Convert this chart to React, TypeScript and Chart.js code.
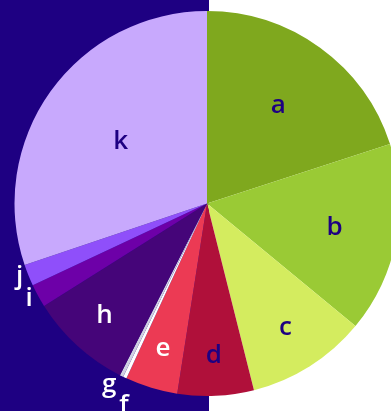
import React, { useEffect, useRef } from "react";
import { Chart, registerables } from "chart.js";

Chart.register(...registerables);

const categories = ["a", "b", "c", "d", "e", "f", "g", "h", "i", "j", "k"];
const values = [20, 16, 10.1, 6.4, 4.4, 0.3, 0.3, 8.6, 1.95, 1.8, 30.2];

const sliceColors = [
  "#7fa81e", "#9aca35", "#d4ec5f", "#b0103a", "#ec3a54",
  "#ffffff", "#d0d0e2", "#450579", "#6d00a8", "#8f4ffa", "#c8a9fd",
];
const labelColors = [
  "#1e0082", "#1e0082", "#1e0082", "#1e0082", "#ffffff",
  "#ffffff", "#ffffff", "#ffffff", "#ffffff", "#ffffff", "#1e0082",
];
const OUTSIDE_COLOR = "#ffffff";
const BG_DARK = "#1e0082";
const FONT_SIZE = 26;
const FONT_WEIGHT = 600;
const FONT_FAMILY = '"Open Sans", sans-serif';

const labelPlugin = {
  id: "sliceLabels",
  afterDatasetsDraw(chart: any) {
    const ctx = chart.ctx as CanvasRenderingContext2D;
    const meta = chart.getDatasetMeta(0);
    ctx.save();
    ctx.font = `${FONT_WEIGHT} ${FONT_SIZE}px ${FONT_FAMILY}`;
    ctx.textAlign = "center";
    ctx.textBaseline = "middle";
    const outside: any[] = [];
    meta.data.forEach((arc: any, i: number) => {
      const p = arc.getProps(["x", "y", "startAngle", "endAngle", "outerRadius"], true);
      const half = (p.endAngle - p.startAngle) / 2;
      const mid = p.startAngle + half;
      const R = p.outerRadius;
      const text = categories[i];
      const w = ctx.measureText(text).width;
      const h = FONT_SIZE;
      const s = Math.sin(Math.min(half, Math.PI / 2));
      const rIns = s / (1 + s);
      const diam = Math.hypot(w, h);
      if (rIns * R * 2 >= diam) {
        const rc = Math.min(1 - rIns, 0.79);
        ctx.fillStyle = labelColors[i];
        ctx.fillText(text, p.x + Math.cos(mid) * rc * R, p.y + Math.sin(mid) * rc * R);
      } else {
        const px = Math.cos(mid) * R;
        const py = Math.sin(mid) * R;
        const hh = FONT_SIZE * 0.8;
        let dx = w / 2;
        let dy = hh / 2;
        if (px < 0) dx *= -1;
        if (py < 0) dy *= -1;
        const ox = dx + (Math.abs(dy) * (dx > 0 ? 1 : -1)) / 2;
        const oy = dy / (1 + (px * px) / (py * py));
        outside.push({ text, x: p.x + px + ox, y: p.y + py + oy, px, py, hh });
      }
    });
    // vertical de-overlap for labels in the lower half (equator first)
    const lower = outside.filter((o) => o.py >= 0).sort((a, b) => a.py - b.py);
    for (let k = 1; k < lower.length; k++) {
      const prev = lower[k - 1];
      const cur = lower[k];
      const minY = prev.y + prev.hh;
      if (cur.y < minY) {
        const shift = minY - cur.y;
        cur.y = minY;
        cur.x += shift * Math.abs(cur.px / cur.py);
      }
    }
    ctx.fillStyle = OUTSIDE_COLOR;
    outside.forEach((o) => ctx.fillText(o.text, o.x, o.y));
    ctx.restore();
  },
};

export default function App() {
  const ref = useRef<HTMLCanvasElement>(null);
  useEffect(() => {
    if (!ref.current) return;
    const chart = new Chart(ref.current, {
      type: "pie",
      data: {
        labels: categories,
        datasets: [
          {
            data: values,
            backgroundColor: sliceColors,
            borderWidth: 0,
          },
        ],
      },
      options: {
        responsive: false,
        animation: false,
        devicePixelRatio: 1,
        layout: { padding: { top: 11, bottom: 15, left: 0, right: 0 } },
        plugins: {
          legend: { display: false },
          tooltip: { enabled: false },
        },
      },
      plugins: [labelPlugin],
    });
    return () => chart.destroy();
  }, []);
  return (
    <div
      style={{
        position: "fixed",
        left: 0,
        top: 0,
        width: 391,
        height: 411,
        overflow: "hidden",
        background: `linear-gradient(to right, ${BG_DARK} 0px, ${BG_DARK} 209px, #ffffff 209px)`,
      }}
    >
      <canvas ref={ref} width={414} height={411} style={{ display: "block" }} />
    </div>
  );
}
